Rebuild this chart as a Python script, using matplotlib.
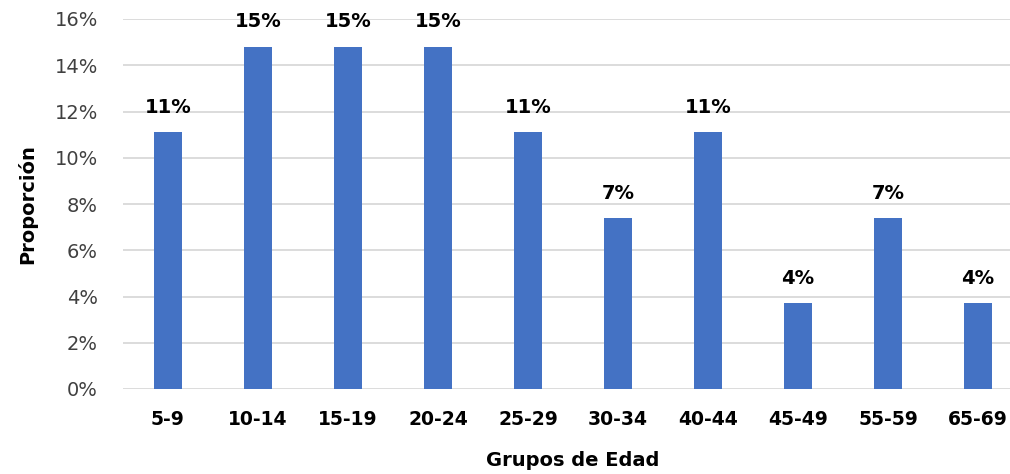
import matplotlib
matplotlib.use("Agg")
import matplotlib.pyplot as plt
from matplotlib.ticker import PercentFormatter

groups = ["5-9", "10-14", "15-19", "20-24", "25-29", "30-34", "40-44", "45-49", "55-59", "65-69"]
share = [0.111, 0.148, 0.148, 0.148, 0.111, 0.074, 0.111, 0.037, 0.074, 0.037]
labels = ["11%", "15%", "15%", "15%", "11%", "7%", "11%", "4%", "7%", "4%"]

plt.rcParams["font.family"] = ["DejaVu Sans"]

W, H = 1010, 474
fig = plt.figure(figsize=(W / 100, H / 100), dpi=100)
# axis spans 123..1023 px, so the last slot runs past the image edge like the original
ax = fig.add_axes([123 / W, (H - 389) / H, 900 / W, 370 / H])

x = range(len(groups))
ax.bar(x, share, width=0.31, color="#4472C4", zorder=3)
for xi, v, lab in zip(x, share, labels):
    ax.annotate(lab, (xi, v), xytext=(0, 11), textcoords="offset points",
                ha="center", va="bottom", fontsize=14, fontweight="bold", color="#000000")

ax.set_xlim(-0.5, len(groups) - 0.5)
ax.set_ylim(0, 0.16)
ax.set_yticks([i * 0.02 for i in range(9)])
ax.yaxis.set_major_formatter(PercentFormatter(1.0, decimals=0))
ax.grid(axis="y", color="#D9D9D9", lw=1.3, zorder=0)
for s in ax.spines.values():
    s.set_visible(False)
ax.tick_params(length=0)
ax.tick_params(axis="y", labelsize=14, labelcolor="#404040", pad=18)
ax.set_xticks(list(x))
ax.set_xticklabels(groups, fontsize=13.5, fontweight="bold")
ax.tick_params(axis="x", pad=15)

ax.set_ylabel("Proporción", fontsize=14, fontweight="bold")
ax.set_xlabel("Grupos de Edad", fontsize=14, fontweight="bold")
ax.xaxis.set_label_coords((573 - 123) / 900, -(451 - 389) / 370)
ax.yaxis.set_label_coords(-(123 - 37) / 900, (389 - 204) / 370)

fig.savefig("out.png", dpi=100)
